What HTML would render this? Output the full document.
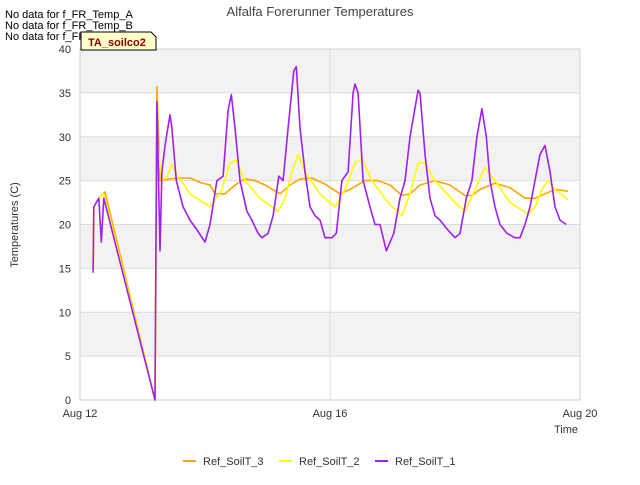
<!DOCTYPE html>
<html><head><meta charset="utf-8"><style>
body{margin:0;background:#fff;font-family:"Liberation Sans","DejaVu Sans",sans-serif}
svg text{font-family:"Liberation Sans","DejaVu Sans",sans-serif}
</style></head><body>
<svg id="c" width="640" height="480" xmlns="http://www.w3.org/2000/svg"></svg>
<script>
// data: [day offset from Aug 12, temperature]
const soilT1=[[0.21,14.5],[0.22,22],[0.3,23],[0.34,18],[0.38,23],[1.2,0],[1.23,34],[1.28,17],[1.31,26],[1.36,29],[1.44,32.5],[1.47,31],[1.54,25],[1.65,22],[1.76,20.5],[1.86,19.5],[2.0,18],[2.08,20],[2.19,25],[2.29,25.5],[2.37,33],[2.42,34.8],[2.48,31],[2.56,25],[2.67,21.5],[2.75,20.5],[2.85,19],[2.91,18.5],[3.01,19],[3.09,21],[3.18,25.5],[3.25,25],[3.33,31],[3.42,37.5],[3.46,38],[3.52,31],[3.6,26],[3.68,22],[3.76,21],[3.84,20.5],[3.92,18.5],[4.03,18.5],[4.1,19],[4.19,25],[4.29,26],[4.37,35],[4.4,36],[4.45,35],[4.53,25],[4.64,22],[4.72,20],[4.8,20],[4.9,17],[5.02,19],[5.12,23],[5.2,25],[5.28,30],[5.41,35.3],[5.44,35],[5.52,28],[5.6,23],[5.68,21],[5.76,20.5],[5.87,19.5],[6.0,18.5],[6.08,19],[6.18,23],[6.27,25],[6.35,30],[6.43,33.2],[6.5,30],[6.56,25],[6.64,22],[6.72,20],[6.83,19],[6.96,18.5],[7.04,18.5],[7.12,20],[7.2,22],[7.28,25],[7.36,28],[7.44,29],[7.52,26],[7.6,22],[7.68,20.5],[7.78,20]];
const soilT3=[[0.21,15],[0.22,22],[0.3,23],[0.37,23.5],[0.4,23.7],[1.2,0],[1.23,35.7],[1.28,25],[1.44,25.2],[1.6,25.3],[1.76,25.3],[1.92,24.8],[2.08,24.5],[2.16,23.5],[2.32,23.5],[2.48,24.5],[2.64,25.2],[2.8,25],[2.96,24.5],[3.2,23.5],[3.36,24.5],[3.52,25.2],[3.71,25.3],[3.92,24.6],[4.16,23.5],[4.32,24],[4.56,25],[4.77,25],[4.96,24.5],[5.15,23.3],[5.28,23.5],[5.44,24.5],[5.68,25],[5.92,24.5],[6.16,23.3],[6.27,23.3],[6.4,24],[6.64,24.7],[6.88,24.2],[7.12,23],[7.28,23],[7.44,23.5],[7.6,24],[7.81,23.8]];
const soilT2=[[0.21,15],[0.22,22],[0.3,23],[0.38,23.5],[1.2,0],[1.23,30],[1.31,25],[1.39,25.5],[1.47,26.8],[1.57,25.5],[1.76,23.5],[2.08,22],[2.27,24],[2.4,27],[2.5,27.3],[2.64,25],[2.88,23],[3.17,21.5],[3.28,23],[3.39,26],[3.49,28],[3.6,26],[3.84,23.5],[4.08,22],[4.24,24],[4.4,27],[4.51,27.5],[4.67,25],[4.93,22.5],[5.15,21],[5.28,23.5],[5.41,27],[5.52,27],[5.68,25],[6.0,22.5],[6.16,21.5],[6.32,24],[6.48,26.5],[6.64,25],[6.88,22.5],[7.17,21.2],[7.28,22],[7.39,24],[7.49,25],[7.6,24],[7.81,22.8]];
const yTicks=[0,5,10,15,20,25,30,35,40];
const xTicks=[[0,"Aug 12"],[4,"Aug 16"],[8,"Aug 20"]];
const L=80,R=580,T=49,B=400,xMax=8,yMax=40;
const X=d=>L+d/xMax*(R-L), Y=v=>B-v/yMax*(B-T);
const svg=document.getElementById('c');const NS='http://www.w3.org/2000/svg';
function mk(tag,attrs,name,txt){const e=document.createElementNS(NS,tag);for(const k in attrs)e.setAttribute(k,attrs[k]);


if(txt!==undefined)e.textContent=txt;svg.appendChild(e);return e;}
for(let i=0;i<yTicks.length-1;i++){if(i%2==1)mk('rect',{x:L,y:Y(yTicks[i+1]),width:R-L,height:Y(yTicks[i])-Y(yTicks[i+1]),fill:'#f2f2f2'},'plot-band');}
yTicks.forEach(v=>{mk('line',{x1:L,x2:R,y1:Y(v),y2:Y(v),stroke:'#dcdcdc','stroke-width':1},'y-gridline');
mk('text',{x:L-9,y:Y(v)+4,'text-anchor':'end','font-size':11,fill:'#333'},'y-tick-label',String(v));});
xTicks.forEach(t=>{mk('line',{x1:X(t[0]),x2:X(t[0]),y1:T,y2:B,stroke:'#dcdcdc'},'x-gridline');
mk('text',{x:X(t[0]),y:B+17,'text-anchor':'middle','font-size':11,fill:'#333'},'x-tick-label',t[1]);});
mk('rect',{x:L,y:T,width:R-L,height:B-T,fill:'none',stroke:'#d0d0d0'},'plot-frame');
function line(data,color,name){mk('polyline',{points:data.map(p=>X(p[0]).toFixed(1)+','+Y(p[1]).toFixed(1)).join(' '),fill:'none',stroke:color,'stroke-width':1.6,'stroke-linejoin':'round'},name);}
line(soilT3,'#ffa500','series-ref-soilt-3');
line(soilT2,'#ffff00','series-ref-soilt-2');
line(soilT1,'#a020f0','series-ref-soilt-1');
mk('text',{x:320,y:16,'text-anchor':'middle','font-size':13,fill:'#444'},'chart-title','Alfalfa Forerunner Temperatures');
mk('text',{x:18,y:225,'text-anchor':'middle','font-size':11,fill:'#333',transform:'rotate(-90 18 225)'},'y-axis-title','Temperatures (C)');
mk('text',{x:578,y:433,'text-anchor':'end','font-size':11,fill:'#333'},'x-axis-title','Time');
['No data for f_FR_Temp_A','No data for f_FR_Temp_B','No data for f_FR_Temp_C'].forEach((s,i)=>mk('text',{x:5,y:18+i*11,'font-size':11,fill:'#000'},'no-data-message',s));
mk('path',{d:'M81,32 L151,32 L156,37 L156,50 L81,50 Z',fill:'#ffffcc',stroke:'#000','stroke-width':1},'annotation-box');
mk('text',{x:88,y:46,'font-size':11,'font-weight':'bold',fill:'#8b0000'},'annotation-label','TA_soilco2');
[['Ref_SoilT_3','#ffa500',183],['Ref_SoilT_2','#ffff00',279],['Ref_SoilT_1','#a020f0',375]].forEach(l=>{
mk('line',{x1:l[2],x2:l[2]+13,y1:461,y2:461,stroke:l[1],'stroke-width':2},'legend-swatch');
mk('text',{x:l[2]+20,y:465,'font-size':11,fill:'#333'},'legend-entry',l[0]);});
</script>
</body></html>
